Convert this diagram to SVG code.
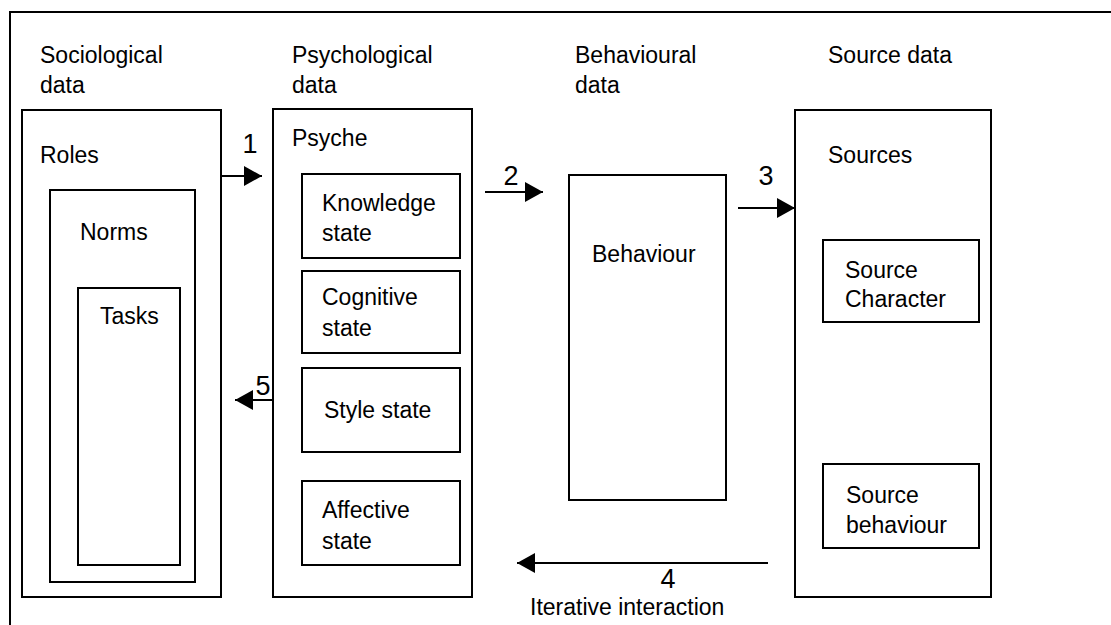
<svg xmlns="http://www.w3.org/2000/svg" width="1111" height="625" viewBox="0 0 1111 625">
  <defs>
    <marker id="head" markerUnits="userSpaceOnUse" markerWidth="18" markerHeight="20" refX="18" refY="10" orient="auto">
      <path d="M0,0 L18,10 L0,20 Z" fill="#000"/>
    </marker>
  </defs>
  <style>
    rect { fill: none; stroke: #000; stroke-width: 2; }
    .frame { fill: none; stroke: #000; stroke-width: 2; }
    text { font-family: "Liberation Sans", Arial, sans-serif; font-size: 23px; fill: #000; }
    .num { font-size: 27px; text-anchor: middle; }
    .conn line { stroke: #000; stroke-width: 2; marker-end: url(#head); }
  </style>
  <rect width="1111" height="625" fill="#fff" stroke="none" style="fill:#fff;stroke:none"/>

  <!-- open outer frame: top and left edges only -->
  <path class="frame" d="M10,625 V12 H1111"/>

  <!-- column titles -->
  <g id="titles">
    <text x="40" y="63">Sociological</text>
    <text x="40" y="93">data</text>
    <text x="292" y="63">Psychological</text>
    <text x="292" y="93">data</text>
    <text x="575" y="63">Behavioural</text>
    <text x="575" y="93">data</text>
    <text x="828" y="63">Source data</text>
  </g>

  <!-- sociological data -->
  <g id="roles">
    <rect x="22" y="110" width="199" height="487"/>
    <text x="40" y="163">Roles</text>
  </g>
  <g id="norms">
    <rect x="50" y="190" width="145" height="392"/>
    <text x="80" y="240">Norms</text>
  </g>
  <g id="tasks">
    <rect x="78" y="288" width="102" height="277"/>
    <text x="100" y="324">Tasks</text>
  </g>

  <!-- psychological data -->
  <g id="psyche">
    <rect x="273" y="109" width="199" height="488"/>
    <text x="292" y="146">Psyche</text>
  </g>
  <g id="knowledge">
    <rect x="302" y="174" width="158" height="84"/>
    <text x="322" y="211">Knowledge</text>
    <text x="322" y="241">state</text>
  </g>
  <g id="cognitive">
    <rect x="302" y="271" width="158" height="82"/>
    <text x="322" y="305">Cognitive</text>
    <text x="322" y="336">state</text>
  </g>
  <g id="style">
    <rect x="302" y="368" width="158" height="84"/>
    <text x="324" y="418">Style state</text>
  </g>
  <g id="affective">
    <rect x="302" y="481" width="158" height="84"/>
    <text x="322" y="518">Affective</text>
    <text x="322" y="549">state</text>
  </g>

  <!-- behavioural data -->
  <g id="behaviour">
    <rect x="569" y="175" width="157" height="325"/>
    <text x="592" y="262">Behaviour</text>
  </g>

  <!-- source data -->
  <g id="sources">
    <rect x="795" y="110" width="196" height="487"/>
    <text x="828" y="163">Sources</text>
  </g>
  <g id="source-character">
    <rect x="823" y="240" width="156" height="82"/>
    <text x="845" y="278">Source</text>
    <text x="845" y="307">Character</text>
  </g>
  <g id="source-behaviour">
    <rect x="823" y="464" width="156" height="84"/>
    <text x="846" y="503">Source</text>
    <text x="846" y="533">behaviour</text>
  </g>

  <!-- numbered connectors -->
  <g id="connectors" class="conn">
    <line x1="221" y1="176" x2="262" y2="176"/>
    <line x1="485" y1="192" x2="543" y2="192"/>
    <line x1="738" y1="208" x2="795" y2="208"/>
    <line x1="768" y1="563" x2="517" y2="563"/>
    <line x1="274" y1="400" x2="235" y2="400"/>
    <text class="num" x="250" y="153">1</text>
    <text class="num" x="511" y="185">2</text>
    <text class="num" x="766" y="185">3</text>
    <text class="num" x="668" y="588">4</text>
    <text class="num" x="263" y="395">5</text>
    <text x="530" y="615" font-size="22">Iterative interaction</text>
  </g>
</svg>
